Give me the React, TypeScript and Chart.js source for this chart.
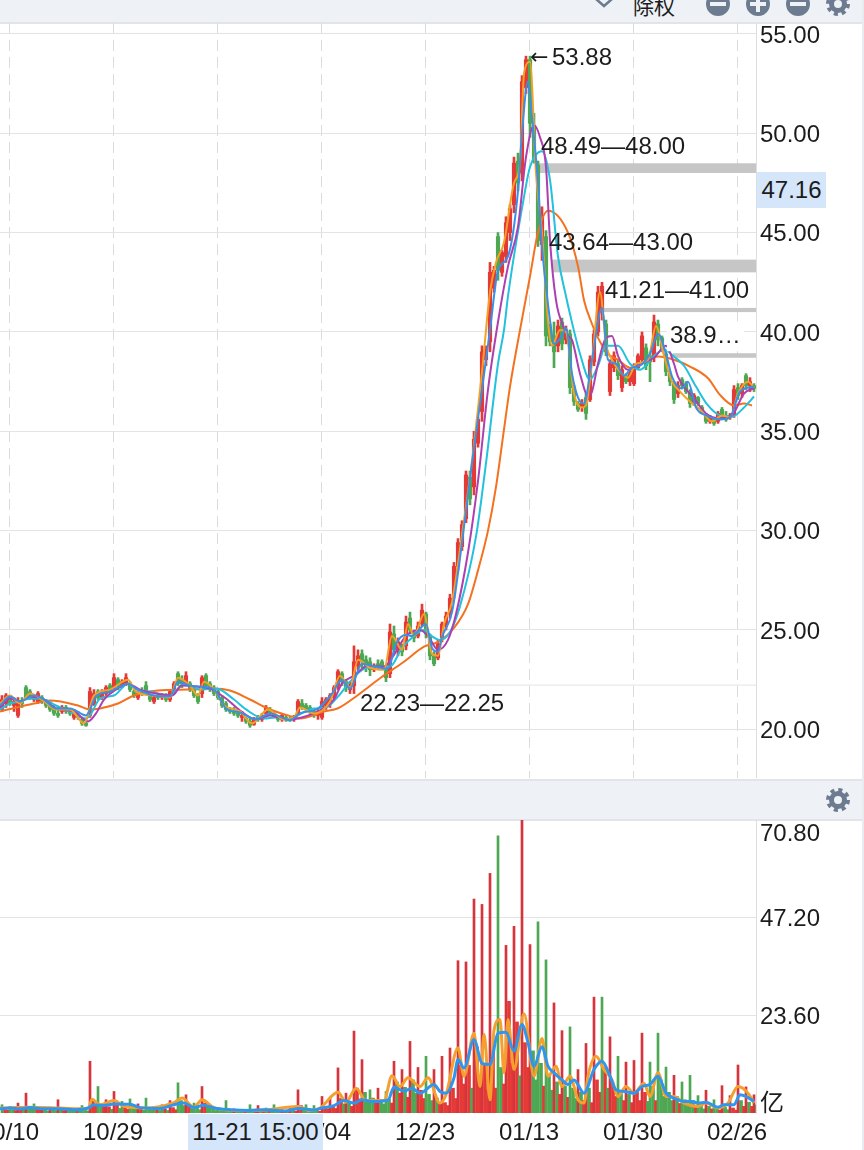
import { useEffect, useRef } from "react"
import { Chart, registerables } from "chart.js"

Chart.register(...registerables)

const FONT = '"Liberation Sans", "Noto Sans CJK SC", sans-serif'
const RED = "#e53935"
const GREEN = "#4ea752"
const GRID = "#e2e4e7"
const PANEL = "#eef1f6"
const SLATE = "#6d7b91"
const HIGHLIGHT = "#d5e5fa"

// x axis runs in hourly bars, 378 of them
const HOURS = 378
const tickHours = [4.5, 56.5, 108.5, 160.5, 212.5, 264.5, 316.5, 368.5]
const tickLabels = ["10/10", "10/29", "11/11", "12/04", "12/23", "01/13", "01/30", "02/26"]

const priceTicks = [20, 25, 30, 35, 40, 45, 50, 55]
const volumeTicks = [2.66, 23.6, 47.2, 67.9]
const volumeTickLabels = ["亿", "23.60", "47.20", "70.80"]

// one candle per half day, first candle centred on hour 1
const candleHigh = [
  21.7, 21.8, 21.7, 21.6, 21.6, 21.6, 22.2, 22.0, 21.7, 21.9,
  21.7, 21.5, 21.4, 21.2, 21.1, 21.2, 21.2, 21.0, 21.0, 20.9,
  20.6, 20.5, 22.1, 22.0, 22.0, 22.0, 22.2, 22.3, 22.8, 22.6,
  22.5, 22.8, 22.4, 22.0, 21.9, 22.1, 22.4, 21.8, 21.7, 21.8,
  21.8, 21.8, 22.0, 22.4, 22.9, 22.7, 22.9, 22.4, 22.1, 21.8,
  22.7, 22.8, 22.4, 22.2, 22.0, 21.7, 21.4, 21.1, 21.1, 21.0,
  20.9, 20.6, 20.55, 20.6, 20.7, 20.8, 21.2, 21.1, 20.9, 20.7,
  20.8, 20.7, 20.6, 20.7, 21.5, 21.5, 21.3, 21.2, 21.0, 21.0,
  21.6, 21.6, 21.8, 22.2, 23.0, 22.9, 22.5, 22.4, 24.2, 24.0,
  24.0, 23.7, 23.6, 23.3, 23.5, 23.5, 23.2, 25.3, 25.2, 24.6,
  24.3, 25.7, 25.9, 25.0, 25.4, 26.3, 25.9, 24.8, 23.9, 24.5,
  25.4, 25.9, 26.8, 28.4, 29.6, 30.5, 33.0, 33.0, 35.0, 35.7,
  39.3, 39.3, 43.5, 43.3, 45.0, 44.1, 45.8, 46.4, 48.8, 49.0,
  52.9, 53.88, 53.88, 51.0, 48.6, 46.3, 45.1, 40.4, 40.5, 40.6,
  40.7, 40.3, 40.1, 37.3, 36.5, 36.6, 36.9, 38.8, 40.1, 42.3,
  42.5, 40.6, 38.6, 39.0, 38.6, 38.3, 37.9, 38.1, 38.4, 38.9,
  40.0, 39.4, 39.0, 40.85, 40.6, 39.8, 39.0, 38.0, 37.5, 37.5,
  37.7, 37.5, 37.1, 36.9, 36.75, 36.3, 35.9, 35.8, 35.7, 36.0,
  36.2, 36.0, 35.9, 37.3, 37.4, 37.4, 37.9, 37.7, 37.4,
]
const candleLow = [
  20.9, 21.1, 21.2, 20.9, 20.6, 21.1, 21.5, 21.5, 21.4, 21.3,
  21.3, 21.1, 20.9, 20.7, 20.6, 20.8, 20.8, 20.7, 20.5, 20.5,
  20.2, 20.15, 20.6, 21.2, 21.5, 21.5, 21.7, 21.8, 22.0, 22.0,
  22.1, 22.2, 21.9, 21.6, 21.5, 21.7, 21.8, 21.4, 21.3, 21.5,
  21.5, 21.4, 21.4, 21.9, 22.2, 22.1, 22.2, 21.9, 21.6, 21.3,
  21.6, 22.1, 21.9, 21.7, 21.5, 21.1, 20.9, 20.8, 20.7, 20.6,
  20.4, 20.3, 20.1, 20.2, 20.4, 20.4, 20.7, 20.7, 20.6, 20.4,
  20.4, 20.4, 20.4, 20.4, 20.7, 21.0, 20.9, 20.8, 20.6, 20.5,
  20.5, 21.0, 21.1, 21.5, 22.0, 22.2, 21.9, 21.8, 21.8, 23.0,
  23.1, 22.9, 22.7, 22.9, 23.0, 23.0, 22.4, 22.6, 23.8, 23.7,
  23.7, 24.0, 24.8, 24.4, 24.6, 25.2, 24.6, 23.5, 23.2, 23.5,
  24.4, 25.0, 25.6, 26.6, 28.0, 29.0, 30.4, 31.3, 31.8, 34.2,
  35.5, 38.3, 39.0, 42.0, 42.6, 42.8, 43.5, 44.6, 46.0, 47.1,
  47.6, 52.0, 49.8, 48.5, 44.3, 43.6, 39.3, 39.3, 38.2, 39.0,
  39.1, 39.4, 36.9, 36.3, 36.0, 36.0, 35.6, 36.5, 38.3, 39.8,
  40.6, 38.8, 36.8, 38.0, 37.6, 37.0, 37.4, 37.3, 37.3, 38.1,
  38.4, 38.1, 37.5, 38.5, 39.3, 39.0, 37.8, 37.3, 36.4, 36.7,
  37.2, 36.9, 36.2, 36.3, 36.3, 35.9, 35.4, 35.4, 35.3, 35.4,
  35.6, 35.5, 35.6, 35.7, 36.6, 36.7, 37.1, 37.0, 37.0,
]
const candleOpen = [
  21.0, 21.3, 21.6, 21.2, 20.7, 21.4, 22.1, 21.9, 21.5, 21.4,
  21.6, 21.4, 21.2, 21.0, 20.8, 20.9, 21.1, 20.9, 20.6, 20.7,
  20.5, 20.3, 20.7, 21.3, 21.9, 21.6, 21.8, 22.2, 22.1, 22.5,
  22.2, 22.3, 22.3, 21.9, 21.6, 21.9, 22.2, 21.7, 21.4, 21.7,
  21.6, 21.7, 21.5, 22.0, 22.8, 22.5, 22.3, 22.3, 22.0, 21.7,
  21.8, 22.7, 22.3, 22.0, 21.9, 21.6, 21.3, 21.0, 20.9, 20.8,
  20.6, 20.55, 20.4, 20.25, 20.6, 20.5, 20.8, 21.0, 20.8, 20.6,
  20.5, 20.6, 20.55, 20.5, 20.8, 21.3, 21.2, 21.1, 20.9, 20.7,
  20.6, 21.2, 21.3, 21.6, 22.2, 22.8, 22.4, 22.0, 22.2, 23.2,
  23.8, 23.5, 23.4, 23.0, 23.3, 23.4, 23.1, 22.8, 24.8, 24.0,
  24.2, 24.2, 25.6, 24.9, 24.7, 25.3, 25.8, 24.7, 23.7, 23.6,
  24.6, 25.2, 25.8, 26.8, 28.2, 29.2, 30.6, 32.7, 32.2, 34.4,
  36.0, 38.6, 39.5, 42.2, 44.8, 43.0, 43.8, 45.0, 46.4, 48.6,
  48.0, 52.3, 53.7, 50.4, 48.4, 44.4, 44.8, 40.1, 39.8, 39.3,
  40.5, 39.6, 39.9, 37.2, 36.4, 36.2, 36.7, 36.6, 38.5, 40.0,
  41.0, 40.4, 37.0, 38.2, 38.4, 37.2, 37.8, 37.5, 37.4, 38.2,
  38.6, 39.2, 38.8, 38.7, 40.4, 39.7, 38.9, 37.9, 37.4, 36.9,
  37.6, 37.4, 37.0, 36.4, 36.7, 36.2, 35.8, 35.5, 35.6, 35.5,
  36.1, 35.8, 35.7, 35.8, 37.2, 36.9, 37.8, 37.3, 37.3,
]
const candleClose = [
  21.5, 21.7, 21.3, 21.4, 21.4, 21.3, 21.6, 21.6, 21.6, 21.8,
  21.4, 21.2, 21.0, 20.8, 20.7, 21.1, 20.9, 20.8, 20.8, 20.6,
  20.3, 20.2, 21.9, 21.8, 21.6, 21.9, 22.1, 21.9, 22.6, 22.2,
  22.4, 22.6, 22.0, 21.7, 21.8, 21.8, 21.9, 21.5, 21.6, 21.6,
  21.7, 21.5, 21.9, 22.3, 22.3, 22.3, 22.7, 22.0, 21.7, 21.4,
  22.6, 22.2, 22.0, 21.8, 21.6, 21.2, 21.0, 20.9, 20.8, 20.7,
  20.7, 20.4, 20.2, 20.5, 20.5, 20.7, 21.1, 20.8, 20.7, 20.5,
  20.7, 20.5, 20.45, 20.6, 21.4, 21.1, 21.0, 20.9, 20.7, 20.9,
  21.4, 21.5, 21.7, 22.1, 22.9, 22.4, 22.1, 22.2, 23.4, 23.7,
  23.4, 23.1, 23.0, 23.2, 23.2, 23.1, 22.6, 24.9, 24.0, 24.4,
  23.9, 25.4, 25.0, 24.6, 25.2, 26.0, 24.8, 23.7, 23.3, 24.3,
  25.3, 25.7, 26.6, 28.2, 29.4, 30.3, 32.8, 31.6, 34.6, 35.6,
  39.0, 39.1, 43.0, 43.1, 43.1, 44.0, 45.5, 46.2, 48.5, 47.5,
  52.6, 53.7, 50.5, 48.6, 44.6, 45.8, 39.8, 39.5, 39.0, 40.3,
  39.4, 40.1, 37.2, 36.5, 36.1, 36.4, 35.9, 38.6, 39.9, 42.0,
  42.3, 39.0, 38.4, 38.8, 37.8, 38.1, 37.5, 37.9, 38.2, 38.8,
  39.8, 38.3, 38.5, 40.5, 39.6, 39.1, 38.0, 37.5, 36.6, 37.3,
  37.3, 37.0, 36.4, 36.8, 36.4, 36.0, 35.5, 35.7, 35.4, 35.9,
  35.7, 35.6, 35.8, 37.1, 36.8, 37.3, 37.3, 37.5, 37.16,
]

// moving averages as [hour, price]
const priceBlue = [
  [0, 21.2], [5, 21.65], [10, 21.4], [17, 21.7], [22, 21.5], [28, 21.05], [35, 21.05], [43, 20.7], [48, 21.65], [55, 21.9],
  [64, 22.3], [68, 22.05], [77, 21.7], [85, 21.65], [89, 22.4], [95, 22.2], [100, 22.15], [107, 22], [113, 21.05], [120, 20.85],
  [128, 20.5], [135, 20.8], [145, 20.47], [150, 20.8], [159, 21.05], [166, 21.8], [171, 22.5], [175, 22.05], [181, 23.3], [188, 23.15],
  [194, 23.05], [198, 24.3], [203, 24.75], [206, 24.7], [213, 25.3], [216, 24.1], [219, 23.9], [221, 24.65], [226, 25.9], [231, 29.4],
  [236, 33.4], [241, 37.1], [245, 40.1], [249, 43.1], [254, 43.8], [259, 47.1], [261, 50], [264, 52.6], [266, 50.8], [269, 47.5],
  [271, 44.3], [274, 41.4], [275, 40.6], [277, 39.4], [281, 39.8], [283, 40.2], [286, 37.9], [290, 36.5], [292, 36.4], [296, 38.6],
  [301, 41.2], [304, 38.6], [308, 38.4], [312, 37.8], [316, 38.2], [320, 38.3], [325, 38.9], [329, 39.9], [333, 38.9], [336, 37.75],
  [341, 37.15], [344, 37.5], [348, 36.2], [353, 35.8], [360, 35.6], [365, 35.7], [370, 37], [377, 37.25],
]
const priceOrange = [
  [0, 21.3], [5, 21.7], [10, 21.3], [15, 21.8], [21, 21.5], [28, 21.0], [35, 21.0], [42, 20.3], [47, 21.7], [55, 22],
  [64, 22.5], [68, 21.9], [77, 21.7], [85, 21.6], [89, 22.6], [95, 22.2], [99, 21.7], [102, 22.4], [107, 22], [112, 21.2],
  [120, 20.9], [126, 20.3], [134, 21], [142, 20.5], [147, 20.6], [150, 21.1], [157, 20.8], [165, 21.4], [170, 22.7], [175, 22.1],
  [179, 23.5], [185, 23.1], [192, 23], [196, 24.7], [201, 24], [204, 25.3], [207, 24.7], [212, 25.8], [216, 23.8], [219, 23.7],
  [222, 25.3], [226, 26.4], [231, 29.8], [236, 33.5], [241, 38], [245, 42], [248, 43.5], [252, 44.5], [257, 47.5], [260, 48.5],
  [262, 53], [265, 53.6], [268, 48], [271, 45], [274, 40.5], [276, 39.3], [280, 40.1], [283, 40], [287, 36.9], [291, 36.2],
  [293, 36.3], [296, 38.5], [300, 42], [303, 39.4], [306, 38.6], [310, 38], [314, 37.7], [318, 38.4], [324, 38.6], [328, 40.3],
  [332, 38.8], [336, 37.5], [340, 37], [345, 36.5], [350, 36.1], [356, 35.5], [361, 35.8], [365, 35.7], [369, 36.9], [374, 37.5], [377, 37.2],
]
const pricePurple = [
  [0, 21.1], [5, 21.55], [10, 21.4], [15, 21.65], [22, 21.5], [28, 21.05], [37, 20.9], [44, 20.4], [48, 20.8], [52, 21.5],
  [58, 22], [64, 22.3], [70, 22], [78, 21.8], [86, 21.7], [91, 22.2], [98, 22.15], [105, 22.05], [113, 21.55], [120, 20.95],
  [128, 20.5], [135, 20.7], [143, 20.5], [149, 20.55], [157, 20.8], [161, 21], [167, 21.5], [171, 22.3], [177, 22.7], [184, 23.2],
  [192, 23.16], [196, 23.6], [203, 24.7], [210, 25], [214, 24.7], [219, 24], [224, 24.5], [228, 25.8], [234, 28.9], [239, 32.5],
  [244, 37.1], [249, 40.5], [254, 43.3], [259, 45.3], [263, 48.8], [267, 50.4], [270, 49.8], [273, 48.3], [275, 44.6], [278, 41.6],
  [282, 40.2], [284, 39.8], [286, 39.6], [290, 37.9], [294, 36.8], [296, 37], [299, 38.4], [303, 39.7], [306, 39.8], [309, 38.8],
  [314, 38.1], [320, 38.4], [327, 38.7], [333, 39.3], [337, 38.4], [339, 37.75], [347, 36.66], [353, 35.9], [360, 35.66], [366, 35.8],
  [372, 36.9], [377, 37.17],
]
const priceCyan = [
  [0, 21], [5, 21.3], [10, 21.4], [15, 21.55], [22, 21.5], [28, 21.2], [37, 20.8], [43, 20.55], [45, 20.7], [50, 21.55],
  [57, 21.7], [64, 22.3], [68, 22], [75, 21.9], [85, 21.7], [92, 22.3], [100, 22], [108, 22.05], [117, 21.5], [123, 21],
  [132, 20.55], [138, 20.6], [145, 20.45], [149, 20.7], [157, 21.05], [163, 21.1], [169, 21.65], [175, 22.4], [182, 23.05], [190, 23.16],
  [195, 23.16], [201, 24.1], [207, 24.7], [212, 25], [215, 24.75], [220, 24.5], [225, 24.9], [230, 26.2], [238, 29.7], [243, 33.4],
  [249, 38.4], [252, 40.1], [254, 41.8], [262, 46.8], [265, 48.3], [271, 49.1], [275, 47.65], [279, 43.8], [283, 41.8], [285, 40.9],
  [290, 38.9], [295, 37.6], [299, 38.3], [303, 39.3], [309, 39.3], [315, 38.4], [320, 38.1], [327, 38.8], [332, 39.1], [337, 38.76],
  [342, 38.3], [348, 37.25], [354, 36.3], [360, 35.8], [366, 35.74], [372, 36.2], [377, 36.75],
]
const priceLong = [
  [0, 20.9], [17, 21.3], [25, 21.45], [39, 21.2], [45, 21], [50, 21.05], [59, 21.3], [67, 21.7], [79, 21.95], [94, 22],
  [107, 22.05], [115, 21.95], [125, 21.5], [134, 21.05], [144, 20.7], [150, 20.55], [162, 20.9], [169, 21.06], [179, 21.73], [190, 22.57],
  [202, 23.4], [212, 24.16], [219, 24.4], [227, 25.1], [234, 26.3], [239, 28], [244, 30], [248, 32.2], [252, 35.1], [255, 37.25],
  [260, 40.1], [265, 42.8], [269, 45], [274, 46.1], [284, 45], [289, 43.3], [292, 41.6], [296, 40.4], [299, 39.7], [304, 38.9],
  [309, 38.6], [315, 38.2], [322, 38.5], [329, 38.76], [337, 38.6], [345, 38.26], [354, 37.67], [360, 36.83], [367, 36.3], [372, 36.4], [376, 36.3],
]

// one tall first-hour bar per day, centred on hours 1, 5, 9 ...
const dayVolume = [
  2, 1.6, 2.4, 4.8, 2.2, 1.2, 1.4, 3.2, 1.2, 1, 1.8, 12.5,
  6.4, 3.2, 5.2, 2.8, 3.4, 2.2, 3.6, 1.6, 2, 3, 7.3, 4.4,
  2.4, 6.4, 1.8, 1.2, 3, 1, 0.8, 2, 1.8, 1.2, 2, 0.8,
  1.4, 5.6, 2, 1.8, 4, 3.6, 10.9, 4.8, 19.8, 12.9, 5.6, 6,
  5.2, 12.5, 10.5, 17.3, 11, 13.7, 10.5, 13.7, 15.7, 36.8, 36.5, 51.7,
  50.4, 57.9, 67, 40.5, 45.1, 70.8, 40.7, 46.2, 37, 26.6, 19.9, 20.8,
  10.5, 16.8, 28, 28, 18.4, 13.7, 12.3, 12.7, 19.3, 12.3, 19.3, 11.1,
  9.1, 7.5, 9.1, 4.2, 5.5, 3.2, 6.6, 4.2, 11.6, 6.3, 4.4,
]
const dayVolumeUp = [
  0, 0, 1, 1, 0, 1, 1, 1, 1, 0, 0, 1,
  0, 1, 1, 0, 0, 1, 0, 0, 0, 1, 0, 1,
  0, 1, 0, 0, 0, 1, 0, 0, 1, 0, 0, 1,
  1, 1, 0, 0, 1, 1, 1, 1, 1, 1, 0, 1,
  0, 1, 1, 1, 1, 0, 1, 1, 1, 1, 1, 1,
  1, 1, 0, 1, 1, 1, 1, 0, 0, 1, 1, 0,
  1, 1, 1, 0, 1, 0, 1, 1, 1, 0, 0, 0,
  1, 0, 0, 0, 1, 0, 1, 1, 1, 1, 1,
]
// two lower bars per day, the rest of the session
const restVolume = [
  1.0, 0.7, 0.8, 0.6, 1.1, 0.8, 1.6, 1.0, 1.3, 0.8, 0.7, 0.5, 0.8, 0.6, 1.0, 0.6, 0.6, 0.4, 0.5, 0.4, 0.8, 0.5,
  3.2, 1.8, 2.2, 1.4, 1.5, 0.9, 1.9, 1.1, 1.4, 0.9, 1.6, 1.0, 1.1, 0.7, 1.3, 0.8, 0.8, 0.6, 0.9, 0.6, 1.3, 0.8,
  3.0, 1.8, 2.0, 1.1, 1.2, 0.8, 2.4, 1.4, 1.0, 0.6, 0.8, 0.5, 1.0, 0.6, 0.6, 0.4, 0.5, 0.3, 0.7, 0.4, 0.6, 0.4,
  0.6, 0.4, 0.8, 0.5, 0.5, 0.3, 0.7, 0.4, 1.8, 1.0, 1.0, 0.6, 0.7, 0.4, 1.5, 1.0, 1.6, 1.1, 3.5, 2.2, 2.4, 1.6,
  6.0, 3.4, 5.0, 3.0, 3.6, 2.4, 3.0, 2.2, 3.4, 2.4, 7.5, 4.8, 6.2, 3.8, 8.0, 4.8, 5.5, 3.5, 4.5, 3.0, 3.6, 2.2,
  2.5, 1.8, 6.0, 3.5, 11.5, 7.0, 11.5, 6.0, 16.0, 6.5, 12, 5.5, 15, 6, 11, 7, 27, 12, 22, 9, 17, 11,
  15, 8, 12, 6.5, 9, 5.5, 7.5, 4.5, 6.5, 3.8, 6, 3.5, 5.0, 3, 6, 2.5, 8, 5, 11, 6, 7, 4,
  5, 3, 4.5, 2.5, 5, 3, 5, 2.8, 6.5, 3, 8, 4, 5, 3, 4, 2.3, 3.2, 2, 3, 1.6, 1.8, 1,
  1.6, 1, 1.2, 0.7, 1.4, 0.8, 1.2, 0.7, 3, 1.6, 2.6, 1.6, 2, 1.4,
]

const volumeBlue = [
  [0, 1], [5, 1.2], [10, 1], [15, 1.3], [22, 1], [30, 1], [37, 0.8], [44, 1.2], [47, 2], [52, 1.8],
  [57, 2.2], [65, 2.1], [70, 1.3], [80, 1.1], [87, 2], [92, 2.4], [97, 1.3], [102, 1.9], [107, 1.2], [115, 0.8],
  [125, 0.6], [132, 0.8], [142, 0.5], [150, 1.1], [157, 0.7], [161, 1.2], [167, 1.8], [172, 3], [177, 2.4], [181, 3.2],
  [186, 2.8], [194, 3.1], [197, 6.2], [202, 5.3], [206, 6], [210, 4.8], [217, 6.9], [220, 5.2], [223, 4.8], [227, 8.5],
  [229, 12.9], [232, 10.9], [237, 17.7], [241, 12], [245, 11.7], [249, 19.3], [253, 19.5], [257, 15], [261, 21.4], [264, 17],
  [267, 11.3], [271, 16], [274, 11.3], [277, 9.7], [281, 8], [284, 6.9], [287, 8], [292, 4.8], [297, 10.5], [301, 12.5],
  [305, 8.9], [308, 5.6], [312, 5.2], [317, 4.8], [321, 6.4], [325, 6.9], [329, 8.9], [333, 4.8], [337, 3.6], [342, 2.8],
  [346, 2.8], [349, 2.4], [353, 2.6], [359, 1.4], [362, 2], [367, 2], [370, 4.4], [373, 4], [377, 2.8],
]
const volumeOrange = [
  [0, 1.2], [15, 1.4], [30, 1.2], [44, 1], [46, 3.3], [50, 2], [57, 3], [62, 1.6], [72, 1.2], [87, 2.5],
  [91, 3.6], [97, 1.4], [101, 3.2], [107, 1.3], [120, 0.6], [132, 0.7], [149, 1.6], [155, 0.6], [160, 1.2], [169, 5],
  [173, 2.6], [178, 6], [183, 3], [192, 3], [196, 9], [200, 6.4], [204, 8.5], [210, 6.4], [214, 8.5], [220, 2.4],
  [223, 4.4], [229, 15.7], [232, 8.9], [237, 19.3], [240, 6.4], [242, 19], [245, 3.2], [247, 20], [250, 22.6], [252, 9.7],
  [254, 22.6], [257, 10.5], [262, 24], [267, 8.9], [271, 18], [274, 8.9], [278, 11.3], [281, 6.4], [285, 8.9], [289, 3.2],
  [292, 2.4], [294, 8.9], [298, 13.7], [302, 10.5], [306, 8], [309, 4], [313, 6.4], [317, 4.8], [322, 7.2], [325, 4],
  [329, 9.7], [333, 4], [337, 4], [342, 2.4], [349, 1.6], [353, 2.4], [359, 1.2], [364, 2.4], [369, 6.4], [374, 4.8], [377, 2.4],
]

// price zones with their labels
const zoneHigh = [48.49, 43.64, 41.21, 38.93, 22.25]
const zoneLow = [48.0, 43.0, 41.0, 38.7, 22.23]
const zoneStartHour = [269, 276, 301.5, 336.5, 180]
const zoneLabels = ["48.49—48.00", "43.64—43.00", "41.21—41.00", "38.9…", "22.23—22.25"]
const highArrow = "←"
const highLabel = "53.88"
const highValue = 53.88
const highHour = 265
const currentPrice = "47.16"
const currentTime = "11-21 15:00"

const tickFont = { family: FONT, size: 24 }

const zonePlugin = {
  id: "zones",
  beforeDatasetsDraw(chart: any) {
    const { ctx, scales, chartArea } = chart
    ctx.save()
    zoneHigh.forEach((high, i) => {
      const top = scales.y.getPixelForValue(high)
      const bottom = scales.y.getPixelForValue(zoneLow[i])
      const left = scales.x.getPixelForValue(zoneStartHour[i])
      ctx.fillStyle = i === 4 ? "#e2e4e7" : "#c6c6c6"
      ctx.fillRect(left, top, chartArea.right - left, Math.max(bottom - top, 1))
    })
    ctx.restore()
  },
  afterDatasetsDraw(chart: any) {
    const { ctx, scales } = chart
    // label anchors: [x offset from zone start, y offset from zone top]
    const offsets = [[3, -16], [-3, -16], [2, -17], [-3, -17], [0, 20]]
    ctx.save()
    ctx.textBaseline = "middle"
    ctx.font = `24px ${FONT}`
    zoneLabels.forEach((label, i) => {
      const x = scales.x.getPixelForValue(zoneStartHour[i]) + offsets[i][0]
      const y = scales.y.getPixelForValue(zoneHigh[i]) + offsets[i][1]
      if (i === 3) {
        ctx.fillStyle = "#fff"
        ctx.fillRect(x - 3, y - 15, ctx.measureText(label).width + 6, 30)
      }
      ctx.fillStyle = "#1c1c1c"
      ctx.fillText(label, x, y)
    })
    const highX = scales.x.getPixelForValue(highHour)
    const highY = scales.y.getPixelForValue(highValue) + 2
    ctx.fillText(highLabel, highX + 22, highY)
    ctx.font = '22px "DejaVu Sans"'
    ctx.fillText(highArrow, highX, highY)
    ctx.restore()
  },
}

const lineSet = (points: number[][], color: string, width = 2) => ({
  type: "line",
  data: points.map(([x, y]) => ({ x, y })),
  borderColor: color,
  borderWidth: width,
  pointRadius: 0,
  cubicInterpolationMode: "monotone",
  fill: false,
})

function Gear({ x, y }: { x: number; y: number }) {
  return (
    <svg width="26" height="26" viewBox="0 0 26 26" style={{ position: "absolute", left: x - 13, top: y - 13 }}>
      <circle cx="13" cy="13" r="6.5" fill="none" stroke={SLATE} strokeWidth="5" />
      <circle cx="13" cy="13" r="10" fill="none" stroke={SLATE} strokeWidth="4" strokeDasharray="4 3.85" />
    </svg>
  )
}

function RoundButton({ x, plus }: { x: number; plus?: boolean }) {
  return (
    <svg width="26" height="26" viewBox="0 0 26 26" style={{ position: "absolute", left: x - 13, top: -9 }}>
      <circle cx="13" cy="13" r="12" fill={SLATE} />
      <rect x="5" y="11" width="16" height="4" fill={PANEL} />
      {plus && <rect x="11" y="5" width="4" height="16" fill={PANEL} />}
    </svg>
  )
}

export default function App() {
  const priceRef = useRef<HTMLCanvasElement>(null)
  const volumeRef = useRef<HTMLCanvasElement>(null)

  useEffect(() => {
    if (!priceRef.current || !volumeRef.current) return

    const xBase = {
      type: "linear",
      offset: false,
      min: 0,
      max: HOURS,
      afterBuildTicks: (scale: any) => {
        scale.ticks = tickHours.map((value) => ({ value }))
      },
    }
    const fitRightAxis = (scale: any) => {
      scale.width = 108
      scale.paddingTop = 0
      scale.paddingBottom = 0
    }
    const fitBottomAxis = (height: number) => (scale: any) => {
      scale.height = height
      scale.paddingLeft = 0
      scale.paddingRight = 0
    }

    const candleColors = candleClose.map((close, i) => (close >= candleOpen[i] ? RED : GREEN))
    const candleX = candleClose.map((_, i) => i * 2 + 1)

    const priceChart = new Chart(priceRef.current, {
      type: "bar",
      data: {
        datasets: [
          lineSet(priceBlue, "#3b8fe8"),
          lineSet(priceOrange, "#f5a125"),
          lineSet(pricePurple, "#ae3fb0"),
          lineSet(priceCyan, "#22c1dc"),
          lineSet(priceLong, "#f4711f"),
          {
            data: candleX.map((x, i) => ({ x, y: [candleOpen[i], candleClose[i]] })),
            backgroundColor: candleColors,
            barThickness: 3.5,
            minBarLength: 1,
            grouped: false,
          },
          {
            data: candleX.map((x, i) => ({ x, y: [candleLow[i], candleHigh[i]] })),
            backgroundColor: candleColors,
            barThickness: 2,
            grouped: false,
          },
        ] as any,
      },
      options: {
        responsive: false,
        animation: false,
        layout: { padding: 0 },
        plugins: { legend: { display: false }, tooltip: { enabled: false } },
        scales: {
          x: {
            ...xBase,
            ticks: { display: false },
            grid: { color: "#d9dbde", drawTicks: false, offset: false },
            border: { display: false, dash: [11, 6] },
            afterFit: fitBottomAxis(0),
          },
          y: {
            position: "right",
            min: 17.55,
            max: 55.55,
            afterBuildTicks: (scale: any) => {
              scale.ticks = priceTicks.map((value) => ({ value }))
            },
            ticks: {
              color: "#1c1c1c",
              font: tickFont,
              padding: 4,
              labelOffset: 2,
              callback: (value: any) => Number(value).toFixed(2),
            },
            grid: { color: GRID, drawTicks: false },
            border: { color: "#dcdee1" },
            afterFit: fitRightAxis,
          },
        },
      } as any,
      plugins: [zonePlugin],
    })

    const volumeChart = new Chart(volumeRef.current, {
      type: "bar",
      data: {
        datasets: [
          lineSet(volumeBlue, "#2f96ef", 3),
          lineSet(volumeOrange, "#f5a02e", 3),
          {
            data: dayVolume.map((y, i) => ({ x: i * 4 + 1, y })),
            backgroundColor: dayVolumeUp.map((up) => (up ? "#d6343c" : GREEN)),
            barThickness: 2,
            grouped: false,
          },
          {
            data: restVolume.map((y, i) => ({ x: Math.floor(i / 2) * 4 + (i % 2 ? 4 : 2.5), y })),
            backgroundColor: restVolume.map((_, i) => candleColors[Math.min(i, candleColors.length - 1)]),
            barThickness: 3,
            grouped: false,
          },
        ] as any,
      },
      options: {
        responsive: false,
        animation: false,
        layout: { padding: 0 },
        plugins: { legend: { display: false }, tooltip: { enabled: false } },
        scales: {
          x: {
            ...xBase,
            ticks: {
              autoSkip: false,
              maxRotation: 0,
              color: "#1c1c1c",
              font: tickFont,
              padding: 6,
              callback: (value: any) => tickLabels[tickHours.indexOf(Number(value))],
            },
            grid: { display: false, drawTicks: false, offset: false },
            border: { display: false },
            afterFit: fitBottomAxis(37),
          },
          y: {
            position: "right",
            min: 0,
            max: 70.8,
            afterBuildTicks: (scale: any) => {
              scale.ticks = volumeTicks.map((value) => ({ value }))
            },
            ticks: {
              color: "#1c1c1c",
              font: tickFont,
              padding: 4,
              labelOffset: 2,
              callback: (value: any) => volumeTickLabels[volumeTicks.indexOf(Number(value))],
            },
            grid: {
              drawTicks: false,
              color: (ctx: any) => (ctx.tick && (ctx.tick.value === 23.6 || ctx.tick.value === 47.2) ? GRID : "transparent"),
            },
            border: { color: "#dcdee1" },
            afterFit: fitRightAxis,
          },
        },
      } as any,
    })

    return () => {
      priceChart.destroy()
      volumeChart.destroy()
    }
  }, [])

  return (
    <div style={{ position: "fixed", left: 0, top: 0, width: 864, height: 1150, overflow: "hidden", background: "#fff", fontFamily: FONT, color: "#1c1c1c" }}>
      {/* top toolbar, cut by the window edge */}
      <div style={{ position: "absolute", left: 0, top: 0, width: 862, height: 22, background: PANEL, borderBottom: "2px solid #e2e4e7", overflow: "hidden" }}>
        <svg width="20" height="10" style={{ position: "absolute", left: 594, top: -1 }}>
          <polyline points="2,0 10,7 18,0" fill="none" stroke={SLATE} strokeWidth="2.5" />
        </svg>
        <div style={{ position: "absolute", left: 633, top: -10, fontSize: 21, fontFamily: '"Noto Sans CJK SC"', lineHeight: "30px" }}>除权</div>
        <RoundButton x={718} />
        <RoundButton x={758} plus />
        <RoundButton x={798} />
        <Gear x={838} y={4} />
      </div>
      <canvas ref={priceRef} width={864} height={755} style={{ position: "absolute", left: 0, top: 23, width: 864, height: 755 }} />
      {/* divider between the panes */}
      <div style={{ position: "absolute", left: 0, top: 779, width: 862, height: 38, background: PANEL, borderTop: "2px solid #e2e4e7", borderBottom: "2px solid #e2e4e7" }}>
        <Gear x={838} y={19} />
      </div>
      <canvas ref={volumeRef} width={864} height={330} style={{ position: "absolute", left: 0, top: 820, width: 864, height: 330 }} />
      <div style={{ position: "absolute", left: 757, top: 172, width: 69, height: 36, background: HIGHLIGHT, fontSize: 24, lineHeight: "36px", textAlign: "center" }}>{currentPrice}</div>
      <div style={{ position: "absolute", left: 188, top: 1114, width: 135, height: 36, background: HIGHLIGHT, fontSize: 24, lineHeight: "36px", textAlign: "center", whiteSpace: "nowrap" }}>{currentTime}</div>
      <div style={{ position: "absolute", left: 862, top: 0, width: 2, height: 1150, background: "#e8ebef" }} />
    </div>
  )
}
